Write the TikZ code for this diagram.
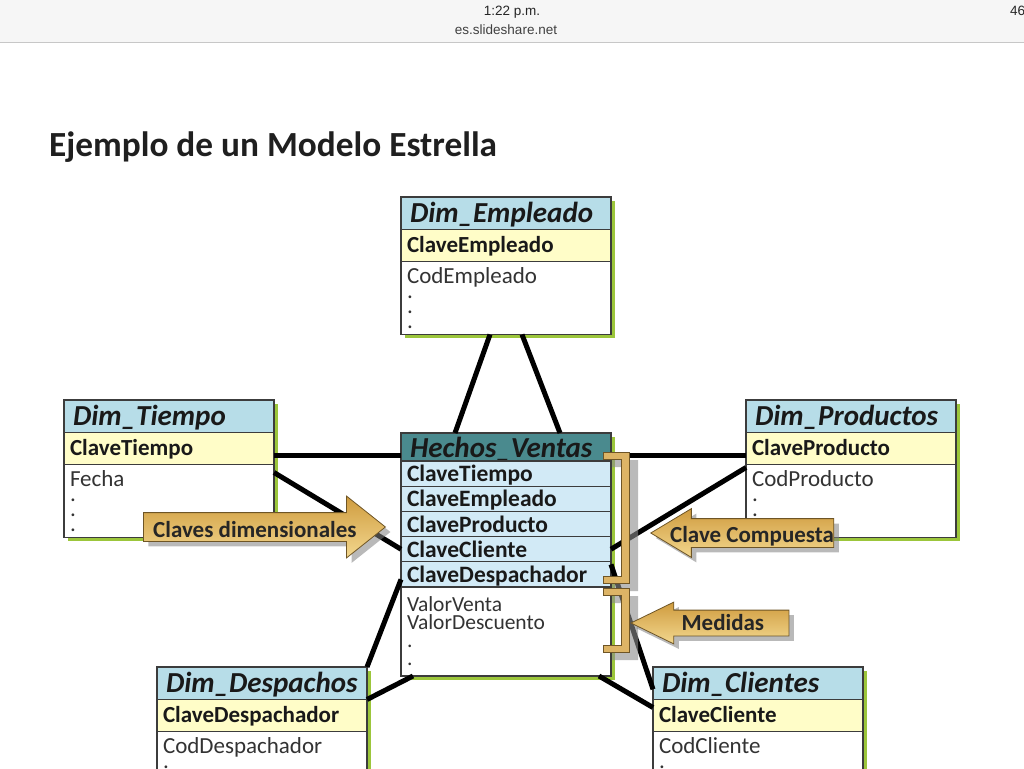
\documentclass[tikz,border=0pt]{standalone}
\usepackage{fontspec}
\setmainfont{Carlito}
\newfontfamily\statusfont{Liberation Sans}
\usepackage{tikz}
\usetikzlibrary{positioning,shapes.arrows,shadows}

\definecolor{dimblue}{HTML}{B7DDE8}
\definecolor{keyyellow}{HTML}{FFFDC8}
\definecolor{factteal}{HTML}{4A8A8E}
\definecolor{factkeyblue}{HTML}{D2EAF6}
\definecolor{tabgreen}{HTML}{9CC63B}
\definecolor{tabline}{HTML}{3C3C3C}
\definecolor{golddark}{HTML}{CF9B3E}
\definecolor{goldlight}{HTML}{F3D88F}
\definecolor{goldmid}{HTML}{DDB466}
\definecolor{goldline}{HTML}{6E5526}
\definecolor{barbg}{HTML}{F6F6F6}

\begin{document}
\begin{tikzpicture}[
    x=1pt, y=-1pt,
    row/.style={draw=tabline, line width=1.2pt, rectangle, outer sep=0pt, inner xsep=6pt, inner ysep=0pt,
      text width=198pt, align=left, text=black!90,
      drop shadow={shadow xshift=3.5pt, shadow yshift=-3.5pt, fill=tabgreen, opacity=1}},
    dimhead/.style={row, fill=dimblue, minimum height=32.5pt, text height=21pt, text depth=2pt,
      inner xsep=9pt, text width=192pt, font=\fontsize{29}{31}\selectfont\bfseries\itshape},
    keyrow/.style={row, fill=keyyellow, minimum height=32pt, text height=16pt, text depth=2pt,
      font=\fontsize{23}{25}\selectfont\bfseries},
    bodyrow/.style={row, fill=white, minimum height=73pt, font=\fontsize{23}{15}\selectfont, text=black!80},
    facthead/.style={row, fill=factteal, minimum height=28pt, text height=21pt, text depth=1pt,
      inner xsep=9pt, text width=192pt, font=\fontsize{29}{31}\selectfont\bfseries\itshape},
    factkey/.style={row, fill=factkeyblue, minimum height=25.2pt, text height=16pt, text depth=0pt,
      font=\fontsize{23.5}{25}\selectfont\bfseries},
    factbody/.style={row, fill=white, minimum height=89pt, font=\fontsize{21.5}{18}\selectfont, text=black!80},
    link/.style={line width=5pt, black},
    callout/.style={single arrow, draw=goldline, line width=0.8pt, top color=golddark, bottom color=goldlight,
      inner sep=0pt, text height=28pt, text depth=0pt, single arrow head indent=0pt,
      drop shadow={shadow xshift=5pt, shadow yshift=-5pt, fill=black!50, opacity=.55}},
    callouttext/.style={inner sep=0pt, font=\fontsize{23}{25}\selectfont\bfseries, text=black!85},
    bracket/.style={fill=goldmid, draw=goldline, line width=0.6pt},
  ]
  \useasboundingbox (0,0) rectangle (1024,768);
  \clip (0,0) rectangle (1024,768);

  % status bar
  \fill[barbg] (0,0) rectangle (1024,43);
  \draw[black!22, line width=1pt] (0,43) -- (1024,43);
  \node[font=\statusfont\fontsize{13.5}{15}\selectfont, text=black!85] (clock) at (512,12) {1:22 p.m.};
  \node[font=\statusfont\fontsize{13.5}{15}\selectfont, text=black!75] (url) at (506,30) {es.slideshare.net};
  \node[anchor=west, inner sep=0pt, font=\statusfont\fontsize{13.5}{15}\selectfont, text=black!85] (batt) at (1010,11) {46};

  \node[anchor=west, inner sep=0pt, font=\fontsize{35.3}{40}\selectfont\bfseries, text=black!88] (title) at (49,147) {Ejemplo de un Modelo Estrella};

  % dimension tables
  \node[dimhead, anchor=north west] (emp-head) at (401,197) {Dim\_Empleado};
  \node[keyrow, below=0pt of emp-head] (emp-key) {ClaveEmpleado};
  \node[bodyrow, below=0pt of emp-key] (emp-body) {CodEmpleado\\.\\.\\.};

  \node[dimhead, anchor=north west] (tie-head) at (64,400) {Dim\_Tiempo};
  \node[keyrow, below=0pt of tie-head] (tie-key) {ClaveTiempo};
  \node[bodyrow, below=0pt of tie-key] (tie-body) {Fecha\\.\\.\\.};

  \node[dimhead, anchor=north west] (pro-head) at (746,400) {Dim\_Productos};
  \node[keyrow, below=0pt of pro-head] (pro-key) {ClaveProducto};
  \node[bodyrow, below=0pt of pro-key] (pro-body) {CodProducto\\.\\.\\.};

  \node[dimhead, anchor=north west] (dsp-head) at (157,667) {Dim\_Despachos};
  \node[keyrow, below=0pt of dsp-head] (dsp-key) {ClaveDespachador};
  \node[bodyrow, below=0pt of dsp-key] (dsp-body) {CodDespachador\\.\\.\\.};

  \node[dimhead, anchor=north west] (cli-head) at (653,667) {Dim\_Clientes};
  \node[keyrow, below=0pt of cli-head] (cli-key) {ClaveCliente};
  \node[bodyrow, below=0pt of cli-key] (cli-body) {CodCliente\\.\\.\\.};

  % fact table
  \node[facthead, anchor=north west] (hv-head) at (401,433) {Hechos\_Ventas};
  \node[factkey, below=0pt of hv-head] (hv-k1) {ClaveTiempo};
  \node[factkey, below=0pt of hv-k1] (hv-k2) {ClaveEmpleado};
  \node[factkey, below=0pt of hv-k2] (hv-k3) {ClaveProducto};
  \node[factkey, below=0pt of hv-k3] (hv-k4) {ClaveCliente};
  \node[factkey, below=0pt of hv-k4] (hv-k5) {ClaveDespachador};
  \node[factbody, below=0pt of hv-k5] (hv-body) {ValorVenta\\ValorDescuento\\.\\.};

  % star links
  \draw[link] ([xshift=-16]emp-body.south) -- ([xshift=-51]hv-head.north);
  \draw[link] ([xshift=16]emp-body.south) -- ([xshift=54]hv-head.north);
  \draw[link] ([yshift=-7]tie-key.east) -- ([yshift=-7]tie-key.east -| hv-head.west);
  \draw[link] ([yshift=-8]tie-body.north east) -- (hv-k4.west);
  \draw[link] ([yshift=-7]pro-key.west) -- ([yshift=-7]pro-key.west -| hv-head.east);
  \draw[link] ([yshift=-3]pro-body.north west) -- (hv-k4.east);
  \draw[link] ([yshift=-5]hv-k5.west) -- (dsp-head.north east);
  \draw[link] (dsp-head.south east) -- ([xshift=12]hv-body.south west);
  \draw[link] ([yshift=10]hv-k5.east) -- ([yshift=-6]cli-head.west);
  \draw[link] ([xshift=-12]hv-body.south east) -- ([yshift=8]cli-key.west);

  % brackets
  \foreach \ya/\yb in {452/583, 588/652}{
    \fill[black!45, opacity=.6, shift={(9,8)}] (603,\ya) -- (629,\ya) -- (629,\yb) -- (603,\yb) -- (603,\yb-7)
      -- (621,\yb-7) -- (621,\ya+7) -- (603,\ya+7) -- cycle;
    \filldraw[bracket] (603,\ya) -- (629,\ya) -- (629,\yb) -- (603,\yb) -- (603,\yb-7)
      -- (621,\yb-7) -- (621,\ya+7) -- (603,\ya+7) -- cycle;
  }

  % callouts
  \node[callout, single arrow tip angle=77, single arrow head extend=16.5pt, minimum height=242pt,
    anchor=tail] (cdim) at (143,527) {};
  \node[callouttext, anchor=base west] (cdim-txt) at ([xshift=10,yshift=-10]cdim.tail) {Claves dimensionales};

  \node[callout, shape border rotate=180, single arrow tip angle=62, single arrow head extend=10pt,
    minimum height=183pt, anchor=tip] (ccomp) at (650,533) {};
  \node[callouttext, anchor=base east] (ccomp-txt) at ([yshift=-9]ccomp.tail) {Clave Compuesta};

  \node[callout, shape border rotate=180, single arrow tip angle=52, single arrow head extend=8pt,
    text height=25pt, minimum height=158pt, anchor=tip] (cmed) at (630,623) {};
  \node[callouttext, anchor=base east] (cmed-txt) at ([xshift=-25,yshift=-7]cmed.tail) {Medidas};
\end{tikzpicture}
\end{document}
